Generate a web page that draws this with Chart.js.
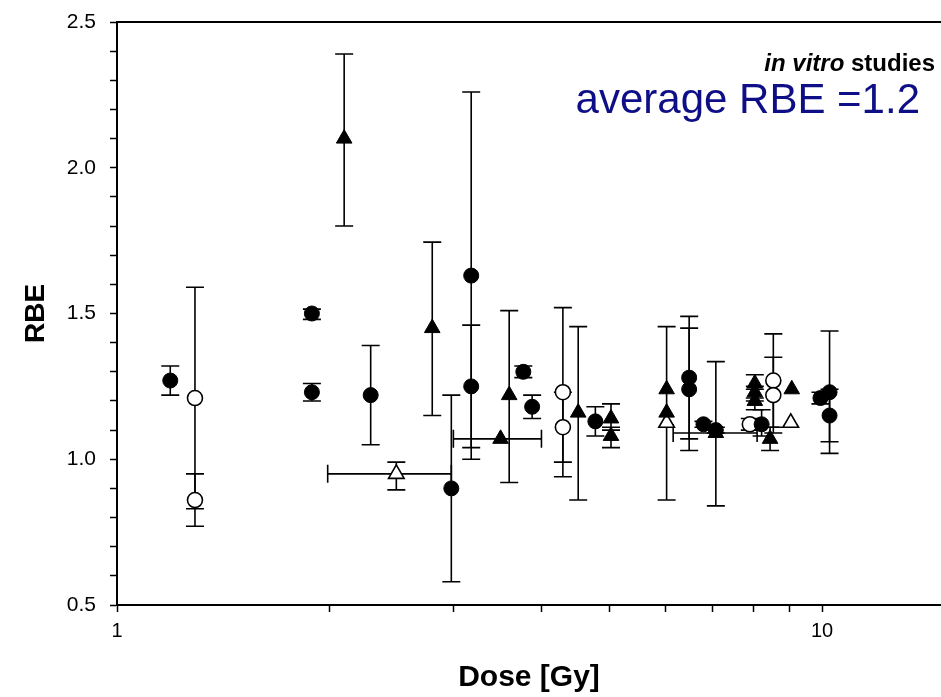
<!DOCTYPE html>
<html>
<head>
<meta charset="utf-8">
<script src="https://cdn.jsdelivr.net/npm/chart.js@4.4.1/dist/chart.umd.min.js"></script>
<style>
  html, body { margin: 0; padding: 0; background: #fff; }
  #wrap { width: 941px; height: 697px; }
</style>
</head>
<body>
<div id="wrap"><canvas id="chart" width="941" height="697"></canvas></div>
<script>
// rows: [dose, rbe, rbe low, rbe high, (dose low, dose high)]
const filledCircles = [
  [1.19, 1.27, 1.22, 1.32],
  [1.89, 1.50, 1.48, 1.515],
  [1.89, 1.23, 1.20, 1.26],
  [2.29, 1.22, 1.05, 1.39],
  [2.98, 0.90, 0.58, 1.22],
  [3.18, 1.63, 1.00, 2.26],
  [3.18, 1.25, 1.04, 1.46],
  [3.77, 1.30, 1.28, 1.32],
  [3.88, 1.18, 1.14, 1.22],
  [4.77, 1.13, 1.08, 1.18],
  [6.48, 1.28, 1.07, 1.49],
  [6.48, 1.24, 1.03, 1.45],
  [6.79, 1.12, 1.11, 1.13],
  [7.07, 1.10, 1.09, 1.11],
  [8.21, 1.12, 1.08, 1.17],
  [9.95, 1.21, 1.19, 1.23],
  [10.25, 1.23, 1.06, 1.44],
  [10.25, 1.15, 1.02, 1.24]
];

const openCircles = [
  [1.29, 1.21, 0.77, 1.59],
  [1.29, 0.86, 0.83, 0.95],
  [4.29, 1.23, 0.94, 1.52],
  [4.29, 1.11, 0.99, 1.23],
  [7.90, 1.12, 1.10, 1.14],
  [8.53, 1.27, 1.11, 1.43],
  [8.53, 1.22, 1.09, 1.35]
];

const filledTriangles = [
  [2.10, 2.10, 1.80, 2.39],
  [2.80, 1.45, 1.15, 1.745],
  [3.50, 1.07, null, null, 3.0, 4.0],
  [3.60, 1.22, 0.92, 1.51],
  [4.51, 1.16, 0.86, 1.455],
  [5.02, 1.14, 1.10, 1.19],
  [5.02, 1.08, 1.04, 1.11],
  [6.02, 1.24, 0.86, 1.455],
  [6.02, 1.16, null, null],
  [7.07, 1.09, 0.84, 1.335, 6.15, 8.09],
  [8.03, 1.26, 1.24, 1.29],
  [8.03, 1.23, 1.20, 1.25],
  [8.03, 1.20, 1.17, 1.21],
  [8.44, 1.07, 1.03, 1.11],
  [9.06, 1.24, null, null]
];

const openTriangles = [
  [2.49, 0.95, 0.895, 0.99, 1.99, 2.98],
  [6.02, 1.125, null, null],
  [9.03, 1.125, null, null]
];

const X_MAX = 14.75;
const xTickValues = [1, 2, 3, 4, 5, 6, 7, 8, 9, 10];
const xTickLabels = [1, 10];
const yTickValues = [];
for (let i = 5; i <= 25; i++) yTickValues.push(i / 10);
const yTickLabels = [0.5, 1.0, 1.5, 2.0, 2.5];

const FONT = '"Liberation Sans", Arial, Helvetica, sans-serif';

function toPoints(rows) {
  return rows.map(r => ({
    x: r[0], y: r[1],
    yMin: r[2], yMax: r[3],
    xMin: r.length > 4 ? r[4] : null,
    xMax: r.length > 4 ? r[5] : null
  }));
}

const errorBars = {
  id: 'errorBars',
  beforeDatasetsDraw(chart) {
    const ctx = chart.ctx;
    const xs = chart.scales.x, ys = chart.scales.y;
    const cap = 9;
    ctx.save();
    ctx.strokeStyle = '#000';
    ctx.lineWidth = 1.6;
    chart.data.datasets.forEach(ds => {
      ds.data.forEach(p => {
        const px = xs.getPixelForValue(p.x);
        const py = ys.getPixelForValue(p.y);
        ctx.beginPath();
        if (p.yMin != null) {
          const y1 = ys.getPixelForValue(p.yMin);
          const y2 = ys.getPixelForValue(p.yMax);
          ctx.moveTo(px, y1); ctx.lineTo(px, y2);
          ctx.moveTo(px - cap, y1); ctx.lineTo(px + cap, y1);
          ctx.moveTo(px - cap, y2); ctx.lineTo(px + cap, y2);
        }
        if (p.xMin != null) {
          const x1 = xs.getPixelForValue(p.xMin);
          const x2 = xs.getPixelForValue(p.xMax);
          ctx.moveTo(x1, py); ctx.lineTo(x2, py);
          ctx.moveTo(x1, py - cap); ctx.lineTo(x1, py + cap);
          ctx.moveTo(x2, py - cap); ctx.lineTo(x2, py + cap);
        }
        ctx.stroke();
      });
    });
    ctx.restore();
  }
};

const labels = {
  id: 'labels',
  afterDraw(chart) {
    const ctx = chart.ctx;
    const area = chart.chartArea;
    ctx.save();
    // top frame line
    ctx.strokeStyle = '#000';
    ctx.lineWidth = 2;
    ctx.beginPath();
    ctx.moveTo(area.left, area.top);
    ctx.lineTo(area.right, area.top);
    ctx.stroke();

    ctx.fillStyle = '#000';
    ctx.textBaseline = 'alphabetic';
    ctx.textAlign = 'left';
    const f1 = 'italic bold 24px ' + FONT;
    const f2 = 'bold 24px ' + FONT;
    ctx.font = f1;
    const w1 = ctx.measureText('in vitro').width;
    ctx.font = f2;
    const w2 = ctx.measureText(' studies').width;
    const start = 935 - w1 - w2;
    ctx.font = f1;
    ctx.fillText('in vitro', start, 71);
    ctx.font = f2;
    ctx.fillText(' studies', start + w1, 71);

    ctx.fillStyle = '#0e0e86';
    ctx.font = '42px ' + FONT;
    ctx.textAlign = 'right';
    ctx.fillText('average RBE =1.2', 920, 113);
    ctx.restore();
  }
};

const filled = '#000';
new Chart(document.getElementById('chart'), {
  type: 'scatter',
  data: {
    datasets: [
      { label: 'filled circles', data: toPoints(filledCircles), pointStyle: 'circle', pointRadius: 7.5,
        backgroundColor: filled, borderColor: filled, borderWidth: 1 },
      { label: 'open circles', data: toPoints(openCircles), pointStyle: 'circle', pointRadius: 7.5,
        backgroundColor: '#fff', borderColor: '#000', borderWidth: 1.6 },
      { label: 'filled triangles', data: toPoints(filledTriangles), pointStyle: 'triangle', pointRadius: 9,
        backgroundColor: filled, borderColor: filled, borderWidth: 1 },
      { label: 'open triangles', data: toPoints(openTriangles), pointStyle: 'triangle', pointRadius: 9,
        backgroundColor: '#fff', borderColor: '#000', borderWidth: 1.6 }
    ]
  },
  options: {
    responsive: false,
    animation: false,
    devicePixelRatio: 1,
    layout: { autoPadding: false, padding: { top: 22, right: 0, bottom: 0, left: 0 } },
    plugins: { legend: { display: false }, tooltip: { enabled: false } },
    scales: {
      x: {
        type: 'logarithmic',
        min: 1,
        max: X_MAX,
        afterBuildTicks: s => { s.ticks = xTickValues.map(v => ({ value: v })); },
        afterFit: s => { s.height = 92; s.paddingLeft = 0; s.paddingRight = 0; },
        ticks: {
          autoSkip: false,
          maxRotation: 0,
          padding: 7,
          color: '#000',
          font: { family: FONT, size: 20 },
          callback: v => xTickLabels.includes(v) ? String(v) : ''
        },
        grid: { drawOnChartArea: false, tickLength: 7, tickWidth: 1.5, tickColor: '#000' },
        border: { color: '#000', width: 2 },
        title: {
          display: true, text: 'Dose [Gy]', color: '#000',
          font: { family: FONT, size: 30, weight: 'bold' },
          padding: { top: 0, bottom: 1 }
        }
      },
      y: {
        min: 0.5,
        max: 2.5,
        afterBuildTicks: s => { s.ticks = yTickValues.map(v => ({ value: v })); },
        afterFit: s => { s.width = 117; s.paddingTop = 0; s.paddingBottom = 0; },
        ticks: {
          autoSkip: false,
          padding: 14,
          color: '#000',
          font: { family: FONT, size: 21 },
          callback: v => yTickLabels.some(t => Math.abs(t - v) < 1e-6) ? v.toFixed(1) : ''
        },
        grid: { drawOnChartArea: false, tickLength: 7, tickWidth: 1.5, tickColor: '#000' },
        border: { color: '#000', width: 2 },
        title: {
          display: true, text: 'RBE', color: '#000',
          font: { family: FONT, size: 28, weight: 'bold' },
          padding: { top: 19, bottom: 0 }
        }
      }
    }
  },
  plugins: [errorBars, labels]
});
</script>
</body>
</html>
